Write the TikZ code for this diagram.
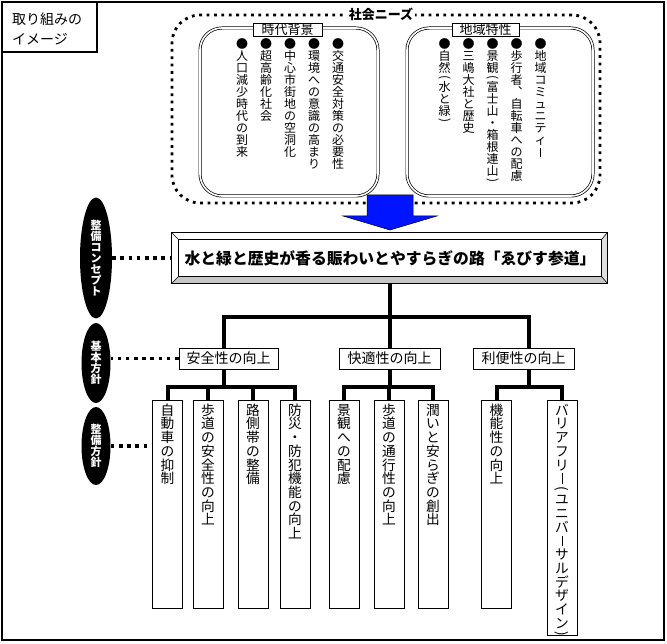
\documentclass[tikz,border=0pt]{standalone}
\usepackage{fontspec}
\setmainfont{Noto Sans CJK JP}
\usepackage{graphicx}
\usetikzlibrary{shapes.geometric,calc}
\makeatletter
\newif\ifvtstrut
\newcommand\vtext[1]{\vbox{\offinterlineskip\@tfor\vt@c:=#1\do{\hbox to 1.05em{\vtstruttrue\hss\vt@c\hss\ifvtstrut\vrule height .88em depth .12em width 0pt\fi}}}}
\makeatother
\newcommand\VL{\vtstrutfalse\vbox to 1em{\vss\hbox{\vrule width .07em height .75em}\vss}}
\newcommand\VP[1]{\vtstrutfalse\vbox to .55em{\vss\hbox{\rotatebox{-90}{#1}}\vss}}
\newcommand\VPL{\VP{(}}
\newcommand\VPR{\VP{)}}
\definecolor{arrowblue}{RGB}{0,20,255}
\tikzset{
  frame/.style={draw, line width=1.2pt},
  borderdots/.style={line width=2.8pt, dash pattern=on 2.8pt off 4.6pt},
  linkdots/.style={line width=3.6pt, dash pattern=on 3.6pt off 4.6pt},
  softbox/.style={draw, double, double distance=1.6pt, line width=0.7pt, rounded corners=22pt, inner sep=0pt},
  tag/.style={draw, fill=white, line width=0.8pt, inner sep=0pt, minimum height=13pt, font=\fontsize{13}{13}\selectfont},
  bul/.style={anchor=north, inner sep=0pt, font=\fontsize{12}{12}\selectfont},
  blackov/.style={ellipse, fill=black, inner sep=0pt, text=white, font=\fontsize{11}{11}\selectfont\bfseries},
  tree/.style={line width=4pt, line join=miter},
  lvl/.style={draw, line width=0.8pt, minimum height=21pt, inner sep=0pt, font=\fontsize{14}{14}\selectfont},
  leaf/.style={draw, line width=0.8pt, minimum width=30pt, anchor=north, inner sep=0pt},
  leaftext/.style={anchor=north, inner sep=0pt, font=\fontsize{13.7}{13.7}\selectfont},
}
\begin{document}
\begin{tikzpicture}[x=1pt,y=-1pt]
\useasboundingbox (0,0) rectangle (667,644);
\fill[white] (0,0) rectangle (667,644);
% outer frame
\node[frame, minimum width=662pt, minimum height=638pt, inner sep=0pt] (outer) at (333,321) {};
% title
\node[frame, minimum width=95pt, minimum height=50pt, inner sep=0pt] (titlebox) at (49.5,27) {};
\node[anchor=north west, inner sep=0pt, align=left, font=\fontsize{14}{20}\selectfont] (title) at (12,12.5) {取り組みの\\イメージ};

% social needs
\node[draw, borderdots, rounded corners=28pt, minimum width=428pt, minimum height=188pt, inner sep=0pt] (needs) at (386,109) {};
\node[fill=white, inner sep=1.5pt, font=\fontsize{13}{13}\selectfont\bfseries] (needslbl) at (381,14) {社会ニーズ};

\node[softbox, minimum width=178pt, minimum height=168pt] (era) at (289,112) {};
\node[softbox, minimum width=186pt, minimum height=168pt] (area) at (500,112) {};
\node[tag, minimum width=69pt] (eratag) at (287.5,29.5) {時代背景};
\node[tag, minimum width=67pt] (areatag) at (485.5,29.5) {地域特性};

\node[bul] (e1) at (242,38) {\vtext{●人口減少時代の到来}};
\node[bul] (e2) at (266,38) {\vtext{●超高齢化社会}};
\node[bul] (e3) at (290,38) {\vtext{●中心市街地の空洞化}};
\node[bul] (e4) at (314,38) {\vtext{●環境への意識の高まり}};
\node[bul] (e5) at (338,38) {\vtext{●交通安全対策の必要性}};

\node[bul] (a1) at (444.5,38) {\vtext{●自然\VPL 水と緑\VPR}};
\node[bul] (a2) at (468.5,38) {\vtext{●三嶋大社と歴史}};
\node[bul] (a3) at (492.5,38) {\vtext{●景観\VPL 富士山・箱根連山\VPR}};
\node[bul] (a4) at (516.5,38) {\vtext{●歩行者︑自転車への配慮}};
\node[bul] (a5) at (540.5,38) {\vtext{●地域コミュニティ\VL}};

% concept box (bevel)
\node[minimum width=436pt, minimum height=51pt, inner sep=0pt, fill=white] (concept) at (389.5,258) {};
\fill[gray!45] (concept.south west) -- (concept.south east) -- ($(concept.south east)+(-6,-7)$) -- ($(concept.south west)+(7,-7)$) -- cycle;
\fill[gray!25] (concept.north east) -- (concept.south east) -- ($(concept.south east)+(-6,-7)$) -- ($(concept.north east)+(-6,7)$) -- cycle;
\draw[line width=0.8pt] (concept.north west) rectangle (concept.south east);
\draw[line width=0.8pt] ($(concept.north west)+(7,7)$) rectangle ($(concept.south east)+(-6,-7)$);
\draw[line width=0.6pt] (concept.north west) -- ($(concept.north west)+(7,7)$)
  (concept.north east) -- ($(concept.north east)+(-6,7)$)
  (concept.south west) -- ($(concept.south west)+(7,-7)$)
  (concept.south east) -- ($(concept.south east)+(-6,-7)$);
\node[inner sep=0pt, font=\fontsize{15.8}{15.8}\selectfont\bfseries] (ctext) at ($(concept.center)+(0.5,0)$) {水と緑と歴史が香る賑わいとやすらぎの路「ゑびす参道」};

% blue arrow
\coordinate (tip) at (390,230);
\filldraw[fill=arrowblue, draw=black, line width=0.5pt] ($(tip)+(-23,-35)$) -- ($(tip)+(23,-35)$) -- ($(tip)+(23,-14)$) -- ($(tip)+(47,-14)$) -- (tip) -- ($(tip)+(-47,-14)$) -- ($(tip)+(-23,-14)$) -- cycle;

% black ovals
\node[blackov, minimum width=32pt, minimum height=121pt] (ov1) at (96,258) {\vtext{整備コンセプト}};
\node[blackov, minimum width=29pt, minimum height=80pt] (ov2) at (96,363) {\vtext{基本方針}};
\node[blackov, minimum width=29pt, minimum height=78pt] (ov3) at (96,446) {\vtext{整備方針}};

% level 1
\node[lvl, minimum width=99pt] (safe) at (228.5,358.5) {安全性の向上};
\node[lvl, minimum width=101pt] (comfort) at (389.5,358.5) {快適性の向上};
\node[lvl, minimum width=101pt] (conv) at (523.5,358.5) {利便性の向上};

% leaves
\node[leaf, minimum height=208pt] (s1) at (167.5,400) {};
\node[leaf, minimum height=208pt] (s2) at (208,400) {};
\node[leaf, minimum height=208pt] (s3) at (253,400) {};
\node[leaf, minimum height=208pt] (s4) at (295,400) {};
\node[leaf, minimum height=208pt] (c1) at (344,400) {};
\node[leaf, minimum height=208pt] (c2) at (389,400) {};
\node[leaf, minimum height=208pt] (c3) at (433,400) {};
\node[leaf, minimum height=208pt] (v1) at (496.5,400) {};
\node[leaf, minimum height=235pt] (v2) at (562,400) {};

\node[leaftext] (s1t) at ($(s1.north)+(0,3)$) {\vtext{自動車の抑制}};
\node[leaftext] (s2t) at ($(s2.north)+(0,3)$) {\vtext{歩道の安全性の向上}};
\node[leaftext] (s3t) at ($(s3.north)+(0,3)$) {\vtext{路側帯の整備}};
\node[leaftext] (s4t) at ($(s4.north)+(0,3)$) {\vtext{防災・防犯機能の向上}};
\node[leaftext] (c1t) at ($(c1.north)+(0,3)$) {\vtext{景観への配慮}};
\node[leaftext] (c2t) at ($(c2.north)+(0,3)$) {\vtext{歩道の通行性の向上}};
\node[leaftext] (c3t) at ($(c3.north)+(0,3)$) {\vtext{潤いと安らぎの創出}};
\node[leaftext] (v1t) at ($(v1.north)+(0,3)$) {\vtext{機能性の向上}};
\node[leaftext] (v2t) at ($(v2.north)+(0,3)$) {\vtext{バリアフリ\VL\VPL ユニバ\VL サルデザイン\VPR}};

% tree
\coordinate (j1) at (224,317);
\coordinate (j2) at (389.5,317);
\coordinate (j3) at (529,317);
\draw[tree] (concept.south -| j2) -- (j2);
\draw[tree] (safe.north -| j1) |- (j3) -- (conv.north -| j3);
\draw[tree] (j2) -- (comfort.north -| j2);

\coordinate (k1) at (224,387);
\coordinate (k2) at (389.5,387);
\coordinate (k3) at (529,387);
\draw[tree] (safe.south -| k1) -- (k1);
\draw[tree] (s1.north) |- (k1) -| (s4.north);
\draw[tree] (s2.north) -- (s2.north |- k1);
\draw[tree] (s3.north) -- (s3.north |- k1);
\draw[tree] (comfort.south -| k2) -- (k2);
\draw[tree] (c1.north) |- (k2) -| (c3.north);
\draw[tree] (c2.north) -- (c2.north |- k2);
\draw[tree] (conv.south -| k3) -- (k3);
\draw[tree] (v1.north) |- (k3) -| (v2.north);

% dotted links
\draw[linkdots] (ov1.east) -- (concept.west);
\draw[linkdots] (safe.west) -- (safe.west -| ov2.east);
\draw[linkdots] (ov3.east) -- (ov3.east -| s1.west);
\end{tikzpicture}
\end{document}
